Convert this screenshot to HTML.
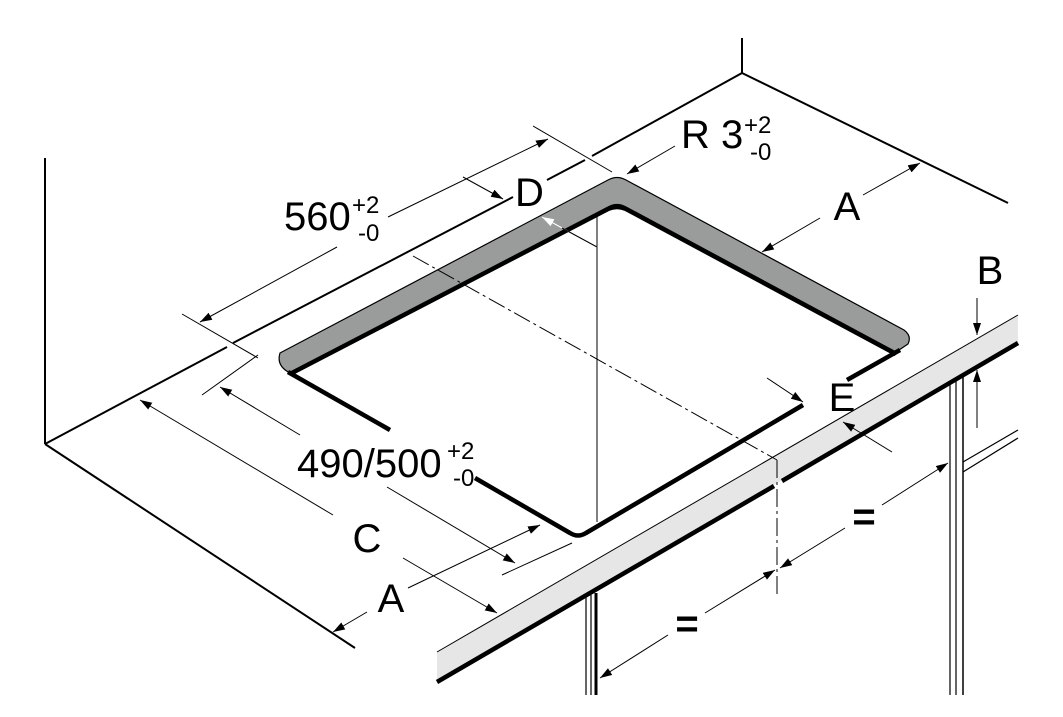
<!DOCTYPE html>
<html><head><meta charset="utf-8"><style>
html,body{margin:0;padding:0;background:#fff}
svg{display:block}
text{font-family:"Liberation Sans",Arial,sans-serif;fill:#000}
</style></head><body>
<svg width="1063" height="717" viewBox="0 0 1063 717" xmlns="http://www.w3.org/2000/svg">
<defs>
<marker id="ar" viewBox="0 0 12 8" refX="12" refY="4" markerWidth="12" markerHeight="8" orient="auto" markerUnits="userSpaceOnUse">
<path d="M0,0 L12,4 L0,8 z" fill="#000"/></marker>
<marker id="aw" viewBox="0 0 12 8" refX="12" refY="4" markerWidth="12" markerHeight="8" orient="auto" markerUnits="userSpaceOnUse">
<path d="M0,0 L12,4 L0,8 z" fill="#fff"/></marker>
</defs>
<g stroke="#000" fill="none" stroke-linecap="butt">
<line x1="45" y1="158" x2="45" y2="444" stroke-width="2"/>
<line x1="742" y1="38" x2="742" y2="73" stroke-width="2"/>
<line x1="742" y1="73" x2="1008" y2="203" stroke-width="2"/>
<polyline points="45,444 227,347" stroke-width="2"/>
<polyline points="233,343 513,197" stroke-width="2"/>
<polyline points="547,180 585,160" stroke-width="2"/>
<polyline points="592,156 742,73" stroke-width="2"/>
<line x1="45" y1="444" x2="355" y2="648" stroke-width="2"/>
</g>
<!-- cutout gray walls -->
<path d="M280,353 L608,180 Q617,175 626,180 L904,330 Q912,336 908,344 L896,352 L626,207 Q617,202 608,207 L290,373 Q276,366 280,353 Z" fill="#9a9c9c" stroke="#000" stroke-width="1.2"/>
<g stroke="#000" fill="none" stroke-width="4.5" stroke-linejoin="round">
<path d="M290,374 L608,209 Q617,205 626,209 L896,354"/>
<path d="M288,372 L390,430"/>
<path d="M475,478 L570,533 Q578,538 586,533 L803,405"/>
<path d="M847,380 L900,350"/>
</g>
<!-- countertop front band -->
<path d="M437,652 L1018,315 L1018,342 L437,682 Z" fill="#e6e6e6"/>
<line x1="437" y1="652" x2="1018" y2="315" stroke="#000" stroke-width="1"/>
<line x1="437" y1="682" x2="774" y2="486" stroke="#000" stroke-width="4.5"/>
<line x1="782" y1="481" x2="1018" y2="343" stroke="#000" stroke-width="4.5"/>
<!-- cabinet legs -->
<g stroke="#000" fill="none">
<line x1="586" y1="597" x2="586" y2="695" stroke-width="1.2"/>
<line x1="591" y1="595" x2="591" y2="695" stroke-width="1.2"/>
<line x1="596" y1="593" x2="596" y2="695" stroke-width="3"/>
<line x1="950" y1="382" x2="950" y2="695" stroke-width="1.2"/>
<line x1="956" y1="380" x2="956" y2="695" stroke-width="1.2"/>
<line x1="963" y1="377" x2="963" y2="695" stroke-width="1.5"/>
<line x1="963" y1="462" x2="1018" y2="430" stroke-width="1.2"/>
<line x1="963" y1="472" x2="1018" y2="438" stroke-width="1.2"/>
</g>
<g stroke="#000" fill="none" stroke-width="1">
<line x1="597" y1="217" x2="597" y2="522"/>
<line x1="413" y1="256" x2="777" y2="460" stroke-dasharray="18,4,3,4"/>
<line x1="777" y1="460" x2="777" y2="597" stroke-dasharray="18,4,3,4"/>
</g>
<g stroke="#000" fill="none" stroke-width="1">
<line x1="182" y1="314" x2="258" y2="358"/>
<line x1="533" y1="126" x2="612" y2="172"/>
<line x1="337" y1="247" x2="200" y2="322" marker-end="url(#ar)"/>
<line x1="388" y1="217" x2="548" y2="139" marker-end="url(#ar)"/>
<line x1="463" y1="177" x2="503" y2="199" marker-end="url(#ar)"/>
<line x1="597" y1="247" x2="542" y2="217" stroke="#fff" marker-end="url(#aw)"/>
<line x1="597" y1="247" x2="562" y2="228"/>
<line x1="675" y1="146" x2="627" y2="174" marker-end="url(#ar)"/>
<line x1="863" y1="195" x2="920" y2="163" marker-end="url(#ar)"/>
<line x1="820" y1="218" x2="762" y2="252" marker-end="url(#ar)"/>
<line x1="977" y1="298" x2="977" y2="335" marker-end="url(#ar)"/>
<line x1="977" y1="428" x2="977" y2="370" marker-end="url(#ar)"/>
<line x1="767" y1="378" x2="803" y2="402" marker-end="url(#ar)"/>
<line x1="892" y1="452" x2="843" y2="422" marker-end="url(#ar)"/>
<line x1="202" y1="395" x2="258" y2="355"/>
<line x1="300" y1="435" x2="220" y2="387" marker-end="url(#ar)"/>
<line x1="387" y1="487" x2="515" y2="563" marker-end="url(#ar)"/>
<line x1="502" y1="575" x2="572" y2="543"/>
<line x1="333" y1="515" x2="140" y2="400" marker-end="url(#ar)"/>
<line x1="403" y1="558" x2="497" y2="613" marker-end="url(#ar)"/>
<line x1="367" y1="612" x2="333" y2="632" marker-end="url(#ar)"/>
<line x1="408" y1="588" x2="540" y2="525" marker-end="url(#ar)"/>
<line x1="668" y1="635" x2="600" y2="678" marker-end="url(#ar)"/>
<line x1="705" y1="613" x2="775" y2="570" marker-end="url(#ar)"/>
<line x1="845" y1="528" x2="780" y2="568" marker-end="url(#ar)"/>
<line x1="882" y1="505" x2="948" y2="463" marker-end="url(#ar)"/>
</g>
<text x="284" y="230" font-size="40">560</text>
<text x="352" y="213" font-size="24">+2</text>
<text x="358" y="241" font-size="24">-0</text>
<text x="515" y="206" font-size="40">D</text>
<text x="681" y="148" font-size="40">R 3</text>
<text x="744" y="133" font-size="24">+2</text>
<text x="750" y="160" font-size="24">-0</text>
<text x="847" y="220" font-size="40" text-anchor="middle">A</text>
<text x="990" y="284" font-size="40" text-anchor="middle">B</text>
<text x="842" y="411" font-size="40" text-anchor="middle">E</text>
<text x="297" y="477" font-size="40">490/500</text>
<text x="447" y="459" font-size="24">+2</text>
<text x="453" y="486" font-size="24">-0</text>
<text x="367" y="552" font-size="40" text-anchor="middle">C</text>
<text x="391" y="612" font-size="40" text-anchor="middle">A</text>
<text x="687" y="637" font-size="40" font-weight="bold" text-anchor="middle">=</text>
<text x="864" y="530" font-size="40" font-weight="bold" text-anchor="middle">=</text>
</svg>
</body></html>
